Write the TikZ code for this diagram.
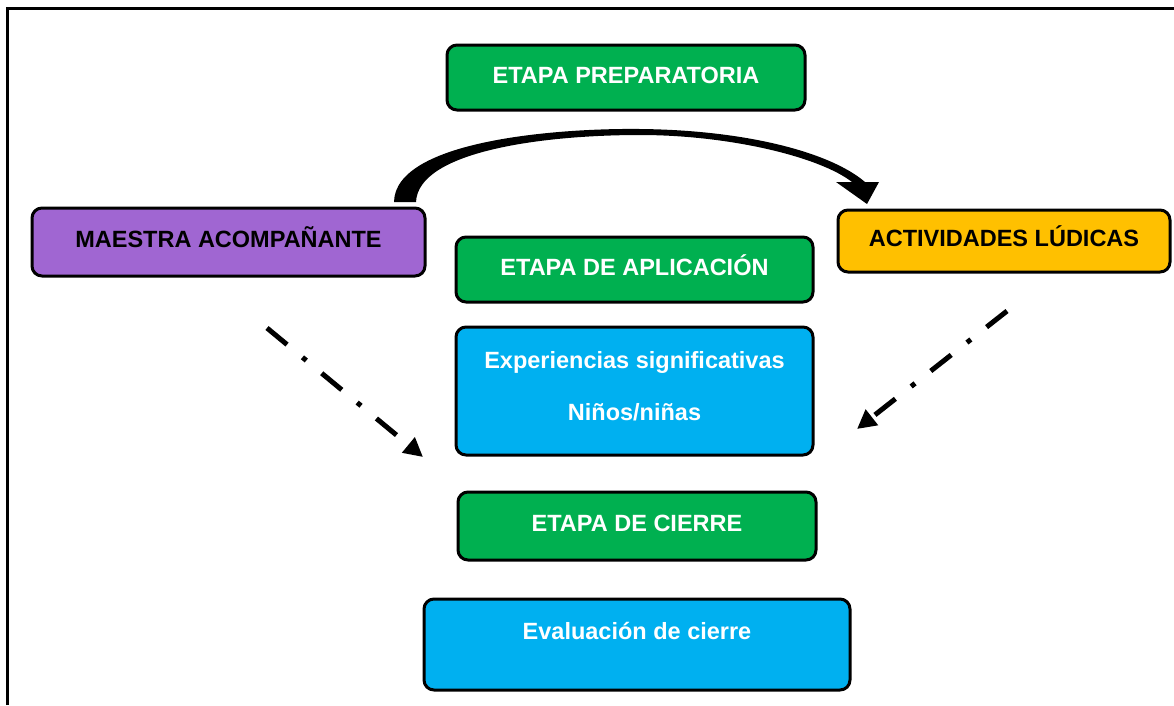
\documentclass[tikz,border=0pt]{standalone}
\usepackage{fontspec}
\setmainfont{Liberation Sans}
\usetikzlibrary{arrows.meta}
\definecolor{cgreen}{RGB}{0,176,80}
\definecolor{cpurple}{RGB}{160,102,210}
\definecolor{cyellow}{RGB}{255,192,0}
\definecolor{cblue}{RGB}{0,176,240}
\tikzset{
  box/.style={draw=black, line width=3pt, rounded corners=10pt, inner sep=0pt,
    font=\fontsize{23.5}{28}\selectfont\bfseries, align=center,
    text height=17pt, text depth=6pt},
  greenbox/.style={box, fill=cgreen, text=white},
  bluebox/.style={box, fill=cblue, text=white},
  dashdot/.style={line width=5pt, dash pattern=on 26pt off 20pt on 5pt off 20pt,
    -{Triangle[length=19pt,width=19pt]}},
}
\begin{document}
\begin{tikzpicture}[x=1pt,y=-1pt]
\useasboundingbox (0,0) rectangle (1174,705);
\fill[white] (0,0) rectangle (1174,705);
\draw[line width=3pt] (7,705) -- (7,8.5) -- (1174,8.5);

\node[greenbox, minimum width=358pt, minimum height=65pt] (prep) at (626,77.5) {ETAPA PREPARATORIA};
\node[box, fill=cpurple, minimum width=393pt, minimum height=68pt] (maestra) at (228.5,242) {MAESTRA ACOMPAÑANTE};
\node[box, fill=cyellow, minimum width=332pt, minimum height=62pt] (ludicas) at (1004,241) {ACTIVIDADES LÚDICAS};
\node[greenbox, minimum width=357pt, minimum height=65pt] (aplic) at (634.5,269.5) {ETAPA DE APLICACIÓN};
\node[bluebox, minimum width=357pt, minimum height=128pt, text height=, text depth=10pt, font=\fontsize{23.5}{52}\selectfont\bfseries] (exp) at (634.5,391) {Experiencias significativas\\Niños/niñas};
\node[greenbox, minimum width=358pt, minimum height=68pt] (cierre) at (637,526) {ETAPA DE CIERRE};
\node[bluebox, minimum width=426pt, minimum height=91pt, text height=40pt, text depth=51pt] (eval) at (637,644.5) {Evaluación de cierre};

% curved arrow from maestra to ludicas
\fill[black] (394,202) .. controls (395,140) and (560,128) .. (640,129)
  .. controls (745,130) and (830,152) .. (865,182)
  -- (879,182) -- (867,204) -- (836,182) -- (852,182)
  .. controls (820,157) and (730,135) .. (640,135)
  .. controls (540,135) and (418,152) .. (416,202) -- cycle;

\coordinate (l1) at (267,328);
\coordinate (l2) at (423,457);
\coordinate (r1) at (1007,311);
\coordinate (r2) at (857,429);
\draw[dashdot] (l1) -- (l2);
\draw[dashdot] (r1) -- (r2);
\end{tikzpicture}
\end{document}
